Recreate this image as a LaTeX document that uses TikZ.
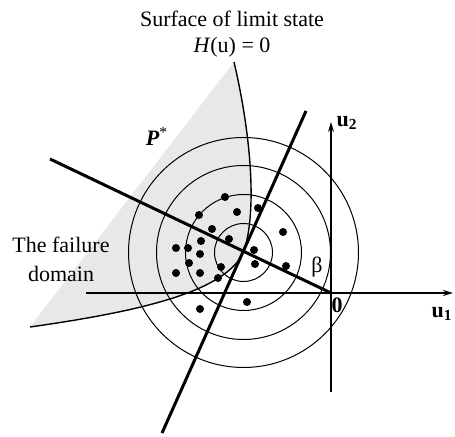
\documentclass[tikz,border=0pt]{standalone}
\usepackage{fontspec}
\setmainfont{Liberation Serif}
\usetikzlibrary{arrows.meta}

\begin{document}
\begin{tikzpicture}[x=0.5pt, y=-0.5pt,
  font=\fontsize{11}{14}\selectfont, >={Stealth[length=5pt, width=3pt]},
  axis/.style={line width=1.4pt},
  thinaxis/.style={line width=0.6pt},
  ray/.style={line width=1.5pt},
  ring/.style={line width=0.5pt},
  lsf/.style={line width=0.7pt},
  region/.style={fill=gray!18},
  sample/.style={circle, fill=black, inner sep=0pt, minimum size=4pt},
  lbl/.style={inner sep=0pt, align=center}]
  \useasboundingbox (0,0) rectangle (455,437);
  % key points
  \coordinate (O) at (331,293);
  \coordinate (D) at (243.5,252.5);
  \coordinate (top) at (234,62);
  \coordinate (tail) at (30,327);
  % failure domain
  \fill[region] (tail) -- (top) .. controls (250,130) and (258,210) .. (D)
    .. controls (225,290) and (150,310) .. (tail);
  % sampling circles
  \foreach \r in {29,58,87,115}
    \draw[ring] (D) circle (\r);
  % limit state surface
  \draw[lsf] (top) .. controls (250,130) and (258,210) .. (D)
    .. controls (225,290) and (150,310) .. (tail);
  % axes
  \coordinate (x0) at (86,293);
  \coordinate (x1) at (453,293);
  \coordinate (y0) at (331,392);
  \coordinate (y1) at (331,122);
  \draw[axis, ->] (x0) -- (x1);
  \draw[thinaxis, ->] (y0) -- (y1);
  % beta line and tangent
  \coordinate (bend) at (50,159);
  \coordinate (t0) at (162,433);
  \coordinate (t1) at (306,111);
  \draw[ray] (O) -- (bend);
  \draw[ray] (t0) -- (t1);
  % samples
  \foreach \px/\py [count=\i] in {225/197, 199/215, 237/212, 258/208, 212/229,
      201/241, 229/239, 283/232, 176/248, 188/248, 200/254, 254/250, 189/263,
      176/273, 200/273, 221/267, 255/264, 286/266, 218/278, 247/302, 200/309}
    \node[sample] (s\i) at (\px,\py) {};
  % labels
  \node[lbl] (title) at (232,19) {Surface of limit state};
  \node[lbl] (eq) at (232,47) {\textit{H}(u) = 0};
  \node[lbl] (pstar) at (157,136) {\textbf{\textit{P}}\textsuperscript{*}};
  \node[lbl, font=\fontsize{11}{14.5}\selectfont] (fd) at (61,259) {The failure\\domain};
  \node[lbl] (beta) at (317,267) {β};
  \node[lbl] (zero) at (337,305) {\textbf{0}};
  \node[lbl] (u2) at (347,123) {\textbf{u\textsubscript{2}}};
  \node[lbl, anchor=east] (u1) at (453,314) {\textbf{u\textsubscript{1}}};
\end{tikzpicture}
\end{document}
